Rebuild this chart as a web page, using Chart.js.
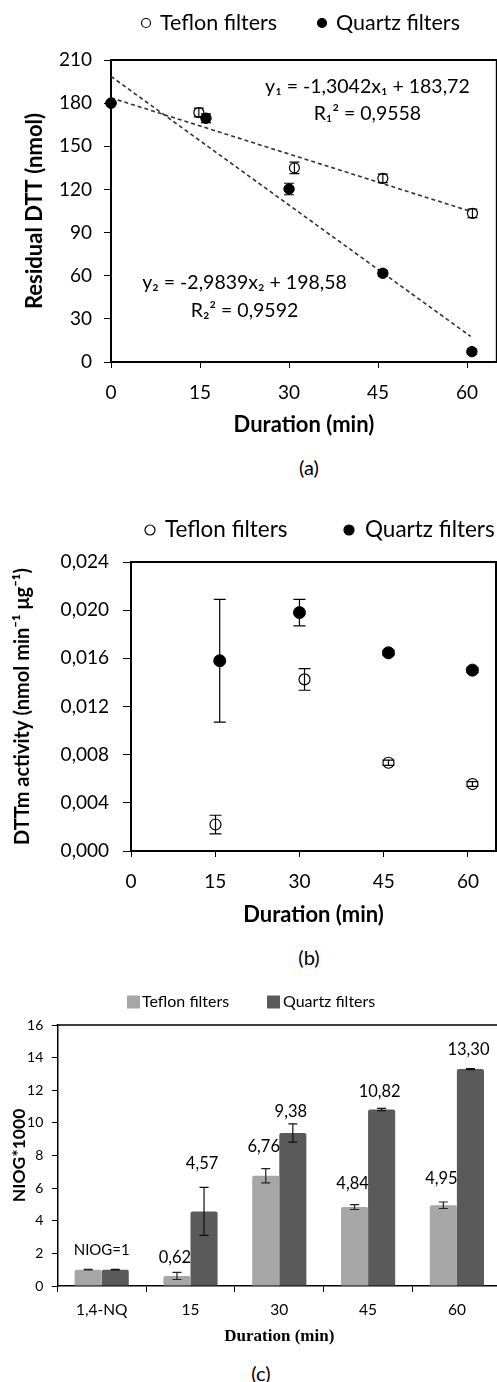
<!DOCTYPE html>
<html><head><meta charset="utf-8">
<script src="https://cdn.jsdelivr.net/npm/chart.js@4"></script>
<style>
html,body{margin:0;padding:0;background:#fff;overflow:hidden;}
#wrap{position:relative;width:497px;height:1382px;overflow:hidden;background:#fff;}
canvas{position:absolute;left:0;}
.cap{position:absolute;font-family:Lato,sans-serif;font-size:20px;color:#000;transform:translate(-50%,-50%);white-space:nowrap;}
</style></head><body>
<div id="wrap">
<canvas id="ca" width="503" height="440" style="top:0px"></canvas>
<canvas id="cb" width="503" height="450" style="top:480px"></canvas>
<canvas id="cc" width="503" height="380" style="top:980px"></canvas>
<div class="cap" style="left:309px;top:467px">(a)</div>
<div class="cap" style="left:309px;top:957px">(b)</div>
<div class="cap" style="left:261px;top:1373px">(c)</div>
</div>
<script>
// ---------- (a) Residual DTT ----------
const aTeflonX = [0, 14.8, 30.9, 45.8, 60.9];
const aTeflonY = [180, 173.5, 135.0, 127.7, 103.4];
const aTeflonErr = [0, 3, 4, 3, 3];
const aQuartzX = [0, 16.0, 30.0, 45.8, 60.8];
const aQuartzY = [180, 169.5, 120.3, 61.7, 7.2];
const aQuartzErr = [0, 3, 4, 2, 2];
const aTrend1X = [0, 61];
const aTrend1Y = [183.7, 104.2];
const aTrend2X = [0, 60.6];
const aTrend2Y = [198.6, 17.8];
const aXTicks = [0, 15, 30, 45, 60];
const aYTicks = [0, 30, 60, 90, 120, 150, 180, 210];

// ---------- (b) DTTm activity ----------
const bTeflonX = [15.05, 30.9, 45.85, 60.8];
const bTeflonY = [0.0022, 0.01425, 0.00733, 0.00556];
const bTeflonErr = [0.00077, 0.0009, 0.00022, 0.0002];
const bQuartzX = [15.8, 30.0, 45.85, 60.8];
const bQuartzY = [0.0158, 0.0198, 0.01646, 0.01502];
const bQuartzErr = [0.0051, 0.0011, 0.0002, 0.0002];
const bXTicks = [0, 15, 30, 45, 60];
const bYTicks = [0, 0.004, 0.008, 0.012, 0.016, 0.020, 0.024];

// ---------- (c) NIOG ----------
const cCategories = ['1,4-NQ', '15', '30', '45', '60'];
const cTeflon = [1, 0.62, 6.76, 4.84, 4.95];
const cQuartz = [1, 4.57, 9.38, 10.82, 13.30];
const cTeflonErr = [0.02, 0.22, 0.44, 0.15, 0.20];
const cQuartzErr = [0.02, 1.47, 0.56, 0.07, 0.03];
const cYTicks = [0, 2, 4, 6, 8, 10, 12, 14, 16];
const cGroupLabel = 'NIOG=1';

// label anchor heights (data units) for the value labels of (c)
const cTeflonLabelAt = [null, 1.72, 8.53, 6.28, 6.59];
const cQuartzLabelAt = [null, 7.47, 10.67, 11.9, 14.46];
const cGroupLabelAt = 2.19;

const zip = (xs, ys) => xs.map((x, i) => ({x: x, y: ys[i]}));
const FONT = 'Lato, "Open Sans", sans-serif';
Chart.defaults.font.family = FONT;
Chart.defaults.color = '#000';

// ---------- plugins ----------
const errorBars = {
  id: 'errorBars',
  afterDatasetsDraw(chart) {
    const ctx = chart.ctx;
    chart.data.datasets.forEach((ds, i) => {
      if (!ds.errors) return;
      const meta = chart.getDatasetMeta(i);
      const ys = chart.scales[meta.yAxisID];
      ctx.save();
      ctx.strokeStyle = ds.errorColor || '#000';
      ctx.lineWidth = ds.errorWidth || 1.2;
      meta.data.forEach((el, j) => {
        const e = ds.errors[j];
        if (!e) return;
        const raw = ds.data[j];
        const v = (typeof raw === 'object') ? raw.y : raw;
        const x = el.x;
        const y1 = ys.getPixelForValue(v + e), y2 = ys.getPixelForValue(v - e);
        const c = (ds.capWidth || 8) / 2;
        ctx.beginPath();
        ctx.moveTo(x, y1); ctx.lineTo(x, y2);
        ctx.moveTo(x - c, y1); ctx.lineTo(x + c, y1);
        ctx.moveTo(x - c, y2); ctx.lineTo(x + c, y2);
        ctx.stroke();
      });
      ctx.restore();
    });
  }
};
function framePlugin(w) {
  return { id: 'frame', afterDraw(chart) {
    const {left, right, top, bottom} = chart.chartArea; const ctx = chart.ctx;
    ctx.save(); ctx.strokeStyle = '#000'; ctx.lineWidth = w;
    ctx.beginPath(); ctx.moveTo(left - w / 2, top); ctx.lineTo(right, top); ctx.lineTo(right, bottom); ctx.stroke();
    ctx.restore();
  }};
}
function legendPlugin(cfg) {
  return { id: 'customLegend', afterDraw(chart) {
    const ctx = chart.ctx; ctx.save();
    ctx.font = cfg.font; ctx.textBaseline = 'middle'; ctx.textAlign = 'left';
    cfg.items.forEach(it => {
      const ds = chart.data.datasets[it.ds];
      if (cfg.kind === 'point') {
        ctx.beginPath(); ctx.arc(it.x, cfg.y, cfg.r, 0, Math.PI * 2);
        ctx.fillStyle = ds.pointBackgroundColor; ctx.fill();
        ctx.lineWidth = 1.2; ctx.strokeStyle = '#000'; ctx.stroke();
      } else {
        ctx.fillStyle = ds.backgroundColor;
        ctx.fillRect(it.x, cfg.y - cfg.box / 2, cfg.box, cfg.box);
      }
      ctx.fillStyle = '#000';
      ctx.fillText(ds.label, it.tx, cfg.y);
    });
    ctx.restore();
  }};
}
function textPlugin(items) {
  return { id: 'texts', afterDatasetsDraw(chart) {
    const ctx = chart.ctx; ctx.save();
    ctx.textAlign = 'center'; ctx.textBaseline = 'middle'; ctx.fillStyle = '#000';
    items.forEach(it => {
      ctx.font = it.font;
      const x = chart.scales.x.getPixelForValue(it.x);
      const y = chart.scales.y.getPixelForValue(it.y);
      ctx.fillText(it.text, x, y);
    });
    ctx.restore();
  }};
}
function barLabelPlugin(cfg) {
  return { id: 'barLabels', afterDatasetsDraw(chart) {
    const ctx = chart.ctx; ctx.save();
    ctx.textAlign = 'center'; ctx.textBaseline = 'middle'; ctx.fillStyle = '#000';
    ctx.font = cfg.font;
    cfg.sets.forEach(s => {
      const meta = chart.getDatasetMeta(s.ds);
      const vals = chart.data.datasets[s.ds].data;
      meta.data.forEach((el, j) => {
        if (s.at[j] == null) return;
        const txt = vals[j].toFixed(2).replace('.', ',');
        ctx.fillText(txt, el.x + cfg.dx, chart.scales.y.getPixelForValue(s.at[j]));
      });
    });
    ctx.font = cfg.groupFont;
    ctx.fillText(cfg.group.text, chart.scales.x.getPixelForValue(cfg.group.index), chart.scales.y.getPixelForValue(cfg.group.at));
    ctx.restore();
  }};
}

const fixTicks = arr => (s => { s.ticks = arr.map(v => ({value: v})); });
const baseOpts = { responsive: false, animation: false, events: [],
  plugins: { legend: { display: false }, tooltip: { enabled: false } } };

// ---------- chart (a) ----------
new Chart(document.getElementById('ca'), {
  type: 'scatter',
  data: { datasets: [
    { label: 'Teflon filters', data: zip(aTeflonX, aTeflonY), errors: aTeflonErr, capWidth: 10, clip: false,
      pointRadius: 5, pointBackgroundColor: '#fff', pointBorderColor: '#000', pointBorderWidth: 1.2, order: 1 },
    { label: 'Quartz filters', data: zip(aQuartzX, aQuartzY), errors: aQuartzErr, capWidth: 10, clip: false,
      pointRadius: 5.2, pointBackgroundColor: '#000', pointBorderColor: '#000', pointBorderWidth: 1, order: 0 },
    { label: 'Linear (Teflon filters)', data: zip(aTrend1X, aTrend1Y), showLine: true, pointRadius: 0,
      borderColor: '#333', borderWidth: 1.6, borderDash: [4, 3], order: 2 },
    { label: 'Linear (Quartz filters)', data: zip(aTrend2X, aTrend2Y), showLine: true, pointRadius: 0,
      borderColor: '#333', borderWidth: 1.6, borderDash: [4, 3], order: 2 }
  ]},
  options: Object.assign({}, baseOpts, {
    layout: { padding: { top: 60, right: 2, bottom: 0, left: 0 } },
    scales: {
      x: { type: 'linear', min: 0, max: 65, afterBuildTicks: fixTicks(aXTicks), afterFit: s => { s.height = 78; },
        ticks: { font: { size: 19 }, padding: 13.2, maxRotation: 0, color: '#000' },
        grid: { drawOnChartArea: false, tickLength: 6, color: '#000', lineWidth: 1 },
        border: { color: '#000', width: 2 },
        title: { display: true, text: 'Duration (min)', color: '#000', font: { size: 22, weight: 'bold' }, padding: { top: 0, bottom: 2 } } },
      y: { type: 'linear', min: 0, max: 210, afterBuildTicks: fixTicks(aYTicks), afterFit: s => { s.width = 111; },
        ticks: { font: { size: 19 }, padding: 12, color: '#000' },
        grid: { drawOnChartArea: false, tickLength: 7, color: '#000', lineWidth: 1 },
        border: { color: '#000', width: 2 },
        title: { display: true, text: 'Residual DTT (nmol)', color: '#000', font: { size: 22, weight: 'bold' }, padding: { top: 22, bottom: 0 } } }
    }
  }),
  plugins: [errorBars, framePlugin(2),
    legendPlugin({ kind: 'point', y: 23, r: 4.5, font: '21.5px ' + FONT,
      items: [{ ds: 0, x: 146, tx: 160 }, { ds: 1, x: 322, tx: 336 }] }),
    textPlugin([
      { text: 'y\u2081 = -1,3042x\u2081 + 183,72', x: 43.2, y: 191.2, font: '19.5px ' + FONT },
      { text: 'R\u2081\u00B2 = 0,9558', x: 43.2, y: 172.5, font: '19.5px ' + FONT },
      { text: 'y\u2082 = -2,9839x\u2082 + 198,58', x: 22.5, y: 54.9, font: '19.5px ' + FONT },
      { text: 'R\u2082\u00B2 = 0,9592', x: 22.5, y: 35.5, font: '19.5px ' + FONT }
    ])]
});

// ---------- chart (b) ----------
new Chart(document.getElementById('cb'), {
  type: 'scatter',
  data: { datasets: [
    { label: 'Teflon filters', data: zip(bTeflonX, bTeflonY), errors: bTeflonErr, capWidth: 12, clip: false,
      pointRadius: 5.5, pointBackgroundColor: '#fff', pointBorderColor: '#000', pointBorderWidth: 1.2, order: 1 },
    { label: 'Quartz filters', data: zip(bQuartzX, bQuartzY), errors: bQuartzErr, capWidth: 12, clip: false,
      pointRadius: 6, pointBackgroundColor: '#000', pointBorderColor: '#000', pointBorderWidth: 1, order: 0 }
  ]},
  options: Object.assign({}, baseOpts, {
    layout: { padding: { top: 82, right: 1, bottom: 0, left: 0 } },
    scales: {
      x: { type: 'linear', min: 0, max: 65, afterBuildTicks: fixTicks(bXTicks), afterFit: s => { s.height = 79; },
        ticks: { font: { size: 19 }, padding: 13.4, maxRotation: 0, color: '#000' },
        grid: { drawOnChartArea: false, tickLength: 6, color: '#000', lineWidth: 1 },
        border: { color: '#000', width: 2 },
        title: { display: true, text: 'Duration (min)', color: '#000', font: { size: 22, weight: 'bold' }, padding: { top: 0, bottom: 2 } } },
      y: { type: 'linear', min: 0, max: 0.024, afterBuildTicks: fixTicks(bYTicks), afterFit: s => { s.width = 131; },
        ticks: { font: { size: 19 }, padding: 14, color: '#000', callback: v => v.toFixed(3).replace('.', ',') },
        grid: { drawOnChartArea: false, tickLength: 8, color: '#000', lineWidth: 1 },
        border: { color: '#000', width: 2 },
        title: { display: true, text: 'DTTm activity (nmol min\u207B\u00B9 \u03BCg\u207B\u00B9)', color: '#000', font: { size: 20, weight: 'bold' }, padding: { top: 11, bottom: 0 } } }
    }
  }),
  plugins: [errorBars, framePlugin(2),
    legendPlugin({ kind: 'point', y: 50, r: 5, font: '22.5px ' + FONT,
      items: [{ ds: 0, x: 150, tx: 165 }, { ds: 1, x: 349, tx: 365 }] })]
});

// ---------- chart (c) ----------
new Chart(document.getElementById('cc'), {
  type: 'bar',
  data: { labels: cCategories, datasets: [
    { label: 'Teflon filters', data: cTeflon, errors: cTeflonErr, capWidth: 9, errorColor: '#222',
      backgroundColor: '#a6a6a6', borderRadius: 2, barPercentage: 1, categoryPercentage: 0.61 },
    { label: 'Quartz filters', data: cQuartz, errors: cQuartzErr, capWidth: 9, errorColor: '#111',
      backgroundColor: '#5a5a5a', borderRadius: 2, barPercentage: 1, categoryPercentage: 0.61 }
  ]},
  options: Object.assign({}, baseOpts, {
    layout: { padding: { top: 45, right: 1.7, bottom: 0, left: 0 } },
    scales: {
      x: { afterFit: s => { s.height = 74; },
        ticks: { font: { size: 15.5 }, padding: 8.7, maxRotation: 0, color: '#000' },
        grid: { drawOnChartArea: false, tickLength: 6, color: '#000', lineWidth: 1, offset: true },
        border: { color: '#000', width: 1.5 },
        title: { display: true, text: 'Duration (min)', color: '#000', font: { family: '"Liberation Serif", "Times New Roman", serif', size: 17, weight: 'bold' }, padding: { top: 0, bottom: 12.8 } } },
      y: { type: 'linear', min: 0, max: 16, afterBuildTicks: fixTicks(cYTicks), afterFit: s => { s.width = 57.3; },
        ticks: { font: { size: 14 }, padding: 8.5, color: '#000' },
        grid: { drawOnChartArea: false, tickLength: 5.5, color: '#000', lineWidth: 1 },
        border: { color: '#000', width: 1.5 },
        title: { display: true, text: 'NIOG*1000', color: '#000', font: { size: 17.5, weight: 'bold' }, padding: { top: 8.5, bottom: 0 } } }
    }
  }),
  plugins: [errorBars, framePlugin(1.5),
    legendPlugin({ kind: 'box', y: 22, box: 13, font: '16px ' + FONT,
      items: [{ ds: 0, x: 127, tx: 142 }, { ds: 1, x: 267, tx: 283 }] }),
    barLabelPlugin({ font: '16.5px ' + FONT, groupFont: '15px ' + FONT, dx: -2,
      sets: [{ ds: 0, at: cTeflonLabelAt }, { ds: 1, at: cQuartzLabelAt }],
      group: { text: cGroupLabel, index: 0, at: cGroupLabelAt } })]
});
</script>
</body></html>
